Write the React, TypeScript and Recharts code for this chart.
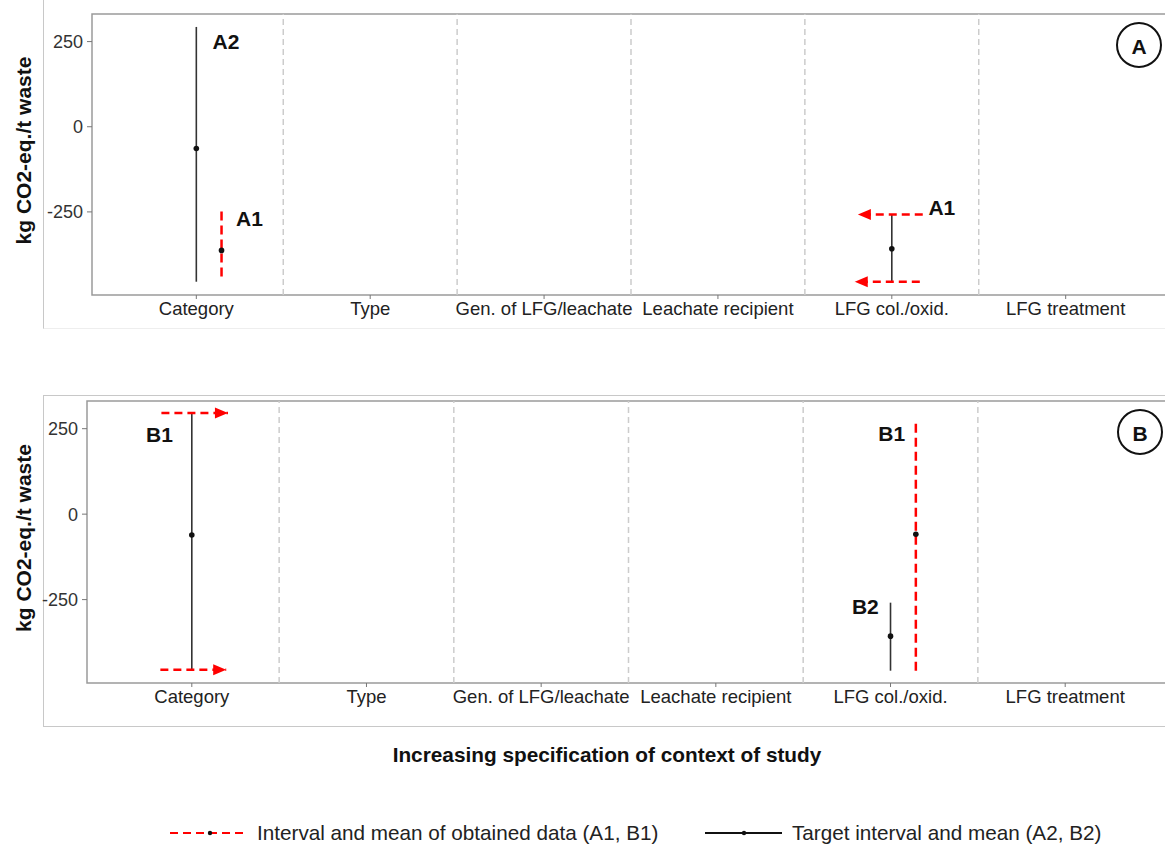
import React from "react";
import {
  ComposedChart,
  XAxis,
  YAxis,
  Line,
  Scatter,
  ReferenceLine,
  ReferenceArea,
} from "recharts";

const FONT = '"Liberation Sans", Arial, sans-serif';

const categories = [
  "Category",
  "Type",
  "Gen. of LFG/leachate",
  "Leachate recipient",
  "LFG col./oxid.",
  "LFG treatment",
];
const categoryTicks = [1, 2, 3, 4, 5, 6];
const separators = [1.5, 2.5, 3.5, 4.5, 5.5];
const yTicks = [-250, 0, 250];
const yDomain = [-494, 331];

// panel A : target (A2) and obtained (A1) intervals
const targetA = [
  { x: 1, lo: -455, hi: 293, mean: -64 },
  { x: 5, lo: -455, hi: -258, mean: -358 },
];
const obtainedA = [{ x: 1.145, lo: -440, hi: -247, mean: -363 }];
const arrowsA = [
  { y: -258, from: 5.178, to: 4.805 },
  { y: -455, from: 5.161, to: 4.787 },
];
const labelsA = [
  { x: 1.171, y: 250, text: "A2" },
  { x: 1.306, y: -270, text: "A1" },
  { x: 5.288, y: -236, text: "A1" },
];

// panel B
const targetB = [
  { x: 1, lo: -456, hi: 296, mean: -61 },
  { x: 5, lo: -458, hi: -259, mean: -357 },
];
const obtainedB = [{ x: 5.145, lo: -458, hi: 269, mean: -59 }];
const arrowsB = [
  { y: 296, from: 0.826, to: 1.207 },
  { y: -455, from: 0.82, to: 1.197 },
];
const labelsB = [
  { x: 0.815, y: 233, text: "B1" },
  { x: 5.007, y: 237, text: "B1" },
  { x: 4.856, y: -270, text: "B2" },
];

const legendItems = [
  "Interval and mean of obtained data (A1, B1)",
  "Target interval and mean (A2, B2)",
];

const MeanDot = (props: any) => (
  <circle cx={props.cx} cy={props.cy} r={2.8} fill="#111" />
);

const arrowHead = (dir: "left" | "right") => (props: any) => {
  const { cx, cy } = props;
  const b = dir === "left" ? cx + 13 : cx - 13;
  return <polygon points={`${cx},${cy} ${b},${cy - 5.5} ${b},${cy + 5.5}`} fill="#ff0000" />;
};

const LabelText = (props: any) => (
  <text
    x={props.cx}
    y={props.cy}
    textAnchor="middle"
    dominantBaseline="central"
    fontWeight="bold"
    fontSize={21}
    fontFamily={FONT}
    fill="#111"
  >
    {props.payload?.text ?? props.text}
  </text>
);

const YTitle = (props: any) => {
  const vb = props.viewBox || { y: 0, height: 0 };
  const cy = vb.y + vb.height / 2 - 4;
  return (
    <text
      x={23}
      y={cy}
      transform={`rotate(-90, 23, ${cy})`}
      textAnchor="middle"
      dominantBaseline="central"
      fontWeight="bold"
      fontSize={21}
      fontFamily={FONT}
      fill="#111"
    >
      kg CO2-eq./t waste
    </text>
  );
};

type Interval = { x: number; lo: number; hi: number; mean: number };
type Arrow = { y: number; from: number; to: number };
type Lbl = { x: number; y: number; text: string };

const Panel = ({
  top,
  yAxisWidth,
  marginTop,
  marginBottom,
  target,
  obtained,
  arrows,
  arrowDir,
  labels,
}: {
  top: number;
  yAxisWidth: number;
  marginTop: number;
  marginBottom: number;
  target: Interval[];
  obtained: Interval[];
  arrows: Arrow[];
  arrowDir: "left" | "right";
  labels: Lbl[];
}) => (
  <div style={{ position: "absolute", left: 0, top }}>
    <ComposedChart
      width={1170}
      height={330}
      margin={{ top: marginTop, right: 0, bottom: marginBottom, left: 0 }}
    >
      <XAxis
        type="number"
        dataKey="x"
        domain={[0.4, 6.6]}
        ticks={categoryTicks}
        allowDataOverflow
        interval={0}
        tickFormatter={(v) => categories[v - 1]}
        axisLine={false}
        tickSize={4}
        tickMargin={3}
        height={30}
        tick={{ fontSize: 18.5, fill: "#222", fontFamily: FONT }}
        tickLine={{ stroke: "#777" }}
      />
      <YAxis
        type="number"
        dataKey="y"
        domain={yDomain}
        ticks={yTicks}
        allowDataOverflow
        width={yAxisWidth}
        axisLine={false}
        tickSize={5}
        tickMargin={4}
        tick={{ fontSize: 18, fill: "#333", fontFamily: FONT }}
        tickLine={{ stroke: "#777" }}
        label={(p: any) => <YTitle {...p} />}
      />
      <ReferenceArea
        x1={0.4}
        x2={6.6}
        y1={yDomain[0]}
        y2={yDomain[1]}
        fill="none"
        stroke="#9a9a9a"
        strokeWidth={1.5}
        ifOverflow="visible"
      />
      {separators.map((s) => (
        <ReferenceLine
          key={`sep-${s}`}
          x={s}
          stroke="#cccccc"
          strokeDasharray="6 4"
          strokeWidth={1.5}
        />
      ))}
      {target.map((d, i) => (
        <Line
          key={`t-${i}`}
          data={[
            { x: d.x, y: d.lo },
            { x: d.x, y: d.hi },
          ]}
          dataKey="y"
          stroke="#333"
          strokeWidth={1.6}
          dot={false}
          isAnimationActive={false}
        />
      ))}
      {obtained.map((d, i) => (
        <Line
          key={`o-${i}`}
          data={[
            { x: d.x, y: d.lo },
            { x: d.x, y: d.hi },
          ]}
          dataKey="y"
          stroke="#ff0000"
          strokeWidth={2.5}
          strokeDasharray="9 5"
          dot={false}
          isAnimationActive={false}
        />
      ))}
      {arrows.map((a, i) => (
        <Line
          key={`a-${i}`}
          data={[
            { x: a.from, y: a.y },
            { x: a.to, y: a.y },
          ]}
          dataKey="y"
          stroke="#ff0000"
          strokeWidth={2.5}
          strokeDasharray="8 5"
          dot={false}
          isAnimationActive={false}
        />
      ))}
      <Scatter
        data={arrows.map((a) => ({ x: a.to, y: a.y }))}
        dataKey="y"
        shape={arrowHead(arrowDir)}
        isAnimationActive={false}
      />
      <Scatter
        data={[...target, ...obtained].map((d) => ({ x: d.x, y: d.mean }))}
        dataKey="y"
        shape={MeanDot}
        isAnimationActive={false}
      />
      <Scatter data={labels} dataKey="y" shape={LabelText} isAnimationActive={false} />
    </ComposedChart>
  </div>
);

export default function App() {
  return (
    <div
      style={{
        position: "absolute",
        left: 0,
        top: 0,
        width: 1165,
        height: 846,
        overflow: "hidden",
        background: "#fff",
        fontFamily: FONT,
      }}
    >
      <div
        style={{
          position: "absolute",
          left: 43,
          top: -2,
          width: 1200,
          height: 330,
          borderLeft: "1.5px solid #c8c8c8",
          borderBottom: "1px solid #eeeeee",
        }}
      />
      <div
        style={{
          position: "absolute",
          left: 43,
          top: 395,
          width: 1200,
          height: 330,
          border: "1.5px solid #c8c8c8",
        }}
      />
      <Panel
        top={0}
        yAxisWidth={92}
        marginTop={14}
        marginBottom={5}
        target={targetA}
        obtained={obtainedA}
        arrows={arrowsA}
        arrowDir="left"
        labels={labelsA}
      />
      <Panel
        top={386}
        yAxisWidth={87}
        marginTop={15}
        marginBottom={3}
        target={targetB}
        obtained={obtainedB}
        arrows={arrowsB}
        arrowDir="right"
        labels={labelsB}
      />
      <svg
        width={1165}
        height={846}
        style={{ position: "absolute", left: 0, top: 0, pointerEvents: "none" }}
      >
        <circle cx={1139} cy={45} r={22} fill="none" stroke="#111" strokeWidth={2} />
        <text x={1139} y={46} textAnchor="middle" dominantBaseline="central" fontWeight="bold" fontSize={21} fontFamily={FONT} fill="#111">
          A
        </text>
        <circle cx={1140} cy={432} r={22} fill="none" stroke="#111" strokeWidth={2} />
        <text x={1140} y={433} textAnchor="middle" dominantBaseline="central" fontWeight="bold" fontSize={21} fontFamily={FONT} fill="#111">
          B
        </text>
        <text x={607} y={754} textAnchor="middle" dominantBaseline="central" fontWeight="bold" fontSize={20.8} fontFamily={FONT} fill="#111">
          Increasing specification of context of study
        </text>
        <line x1={170} y1={833} x2={248} y2={833} stroke="#ff0000" strokeWidth={2} strokeDasharray="8 5" />
        <circle cx={210} cy={833} r={2.2} fill="#111" />
        <text x={257} y={832} dominantBaseline="central" fontSize={20.7} fontFamily={FONT} fill="#222">
          {legendItems[0]}
        </text>
        <line x1={705} y1={833} x2={782} y2={833} stroke="#111" strokeWidth={2} />
        <circle cx={744} cy={833} r={2.2} fill="#111" />
        <text x={792} y={832} dominantBaseline="central" fontSize={20.7} fontFamily={FONT} fill="#222">
          {legendItems[1]}
        </text>
      </svg>
    </div>
  );
}
